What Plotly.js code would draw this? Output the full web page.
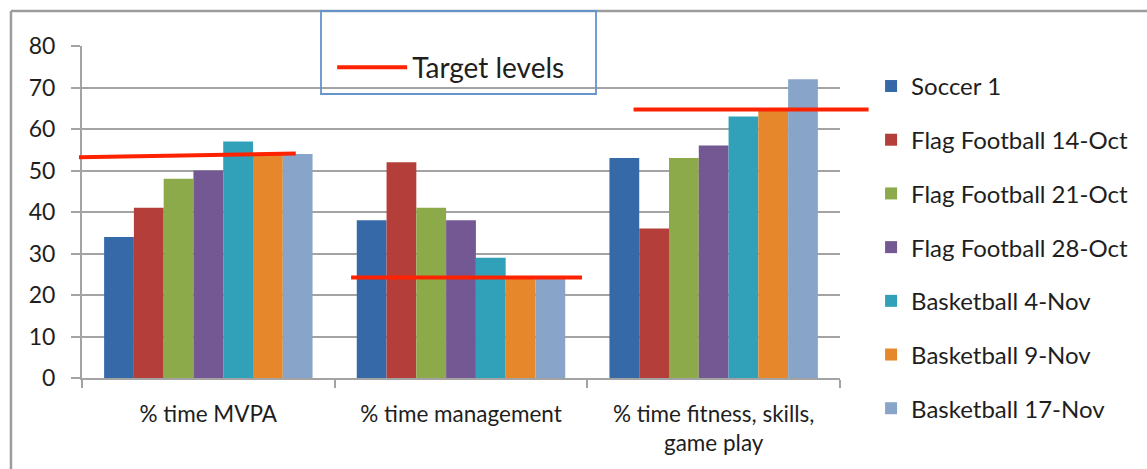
<!DOCTYPE html>
<html>
<head>
<meta charset="utf-8">
<script src="https://cdn.plot.ly/plotly-3.0.1.min.js"></script>
<style>
  html, body { margin: 0; padding: 0; background: #ffffff; }
  #chart { width: 1147px; height: 469px; }
</style>
</head>
<body>
<div id="chart"></div>
<script>
// Lesson categories along the x axis
const categories = ['% time MVPA', '% time management', '% time fitness, skills,<br>game play'];

// One series per observed lesson
const seriesNames = [
  'Soccer 1',
  'Flag Football 14-Oct',
  'Flag Football 21-Oct',
  'Flag Football 28-Oct',
  'Basketball 4-Nov',
  'Basketball 9-Nov',
  'Basketball 17-Nov'
];
const soccer1 = [34, 38, 53];
const flagFootball14Oct = [41, 52, 36];
const flagFootball21Oct = [48, 41, 53];
const flagFootball28Oct = [50, 38, 56];
const basketball4Nov = [57, 29, 63];
const basketball9Nov = [54, 24, 65];
const basketball17Nov = [54, 24, 72];

// Target level for each category (value at the left and right end of the marker line)
const targetStart = [53.2, 24.2, 64.7];
const targetEnd = [54.1, 24.2, 64.7];

const seriesValues = [soccer1, flagFootball14Oct, flagFootball21Oct, flagFootball28Oct,
                      basketball4Nov, basketball9Nov, basketball17Nov];
const seriesColors = ['#3669a8', '#b43f3a', '#8daa4b', '#735893', '#31a0b9', '#e5872a', '#88a4c9'];

const FONT = 'Lato, "Open Sans", "DejaVu Sans", sans-serif';
const TEXT = '#1e1e1e';
const GRID = '#a3a3a3';

const traces = seriesNames.map((name, i) => ({
  type: 'bar',
  name: name,
  x: categories,
  y: seriesValues[i],
  legendgroup: name,
  marker: { color: seriesColors[i], line: { width: 0 } },
  hoverinfo: 'name+y'
}));

// Horizontal extents of each target marker, in category units around the category centre
const targetSpan = [[-0.512, 0.346], [-0.435, 0.479], [-0.317, 0.613]];
// category position -> paper fraction for a categorical axis with range [-0.5, n - 0.5]
const catToPaper = c => (c + 0.5) / categories.length;

const shapes = [];
// outer frame of the chart area (top and left edges)
shapes.push({ type: 'line', xref: 'paper', yref: 'paper', x0: -0.0937, x1: 1.41, y0: 1.1054, y1: 1.1054,
              line: { color: '#9c9c9c', width: 2.5 }, layer: 'below' });
shapes.push({ type: 'line', xref: 'paper', yref: 'paper', x0: -0.0937, x1: -0.0937, y0: 1.1054, y1: -0.3,
              line: { color: '#9c9c9c', width: 2.5 }, layer: 'below' });
// blue box around the target-level key
shapes.push({ type: 'rect', xref: 'paper', yref: 'paper', x0: 0.3153, x1: 0.6781, y0: 0.8554, y1: 1.1054,
              line: { color: '#6594cd', width: 1.8 }, fillcolor: 'rgba(255,255,255,0)', layer: 'above' });

categories.forEach((c, i) => {
  shapes.push({
    type: 'line', xref: 'paper', yref: 'y',
    x0: catToPaper(i + targetSpan[i][0]), x1: catToPaper(i + targetSpan[i][1]),
    y0: targetStart[i], y1: targetEnd[i],
    line: { color: '#ff2200', width: 4 },
    layer: 'above',
    name: 'Target levels',
    showlegend: i === 0,
    legend: 'legend2'
  });
});

const layout = {
  width: 1147,
  height: 469,
  margin: { l: 82, r: 307, t: 46, b: 91, pad: 0 },
  paper_bgcolor: '#ffffff',
  plot_bgcolor: '#ffffff',
  font: { family: FONT, size: 20, color: TEXT },
  barmode: 'group',
  bargap: 0.175,
  bargroupgap: 0,
  showlegend: true,
  xaxis: {
    type: 'category',
    range: [-0.5, categories.length - 0.5],
    tickson: 'boundaries',
    ticks: 'outside',
    ticklen: 8,
    tickwidth: 2,
    tickcolor: GRID,
    showline: true,
    linecolor: GRID,
    linewidth: 2,
    showgrid: false,
    ticklabelstandoff: 15,
    tickfont: { family: FONT, size: 22.5, color: TEXT },
    fixedrange: true
  },
  yaxis: {
    range: [0, 80],
    dtick: 10,
    tick0: 0,
    ticks: 'outside',
    ticklen: 9,
    tickwidth: 2,
    tickcolor: GRID,
    showline: true,
    linecolor: GRID,
    linewidth: 2,
    showgrid: true,
    gridcolor: GRID,
    gridwidth: 2,
    zeroline: false,
    ticklabelstandoff: 11,
    tickfont: { family: FONT, size: 23, color: TEXT },
    fixedrange: true
  },
  legend: {
    x: 1.041,
    y: 0.946,
    xanchor: 'left',
    yanchor: 'top',
    maxheight: 460,
    traceorder: 'grouped',
    tracegroupgap: 19.5,
    bgcolor: 'rgba(255,255,255,0)',
    borderwidth: 0,
    font: { family: FONT, size: 24, color: TEXT }
  },
  legend2: {
    x: 0.33,
    y: 0.86,
    xanchor: 'left',
    yanchor: 'bottom',
    itemwidth: 70,
    bgcolor: 'rgba(255,255,255,0)',
    borderwidth: 0,
    font: { family: FONT, size: 28, color: TEXT }
  },
  shapes: shapes
};

Plotly.newPlot('chart', traces, layout, { displayModeBar: false, staticPlot: true });
</script>
</body>
</html>
